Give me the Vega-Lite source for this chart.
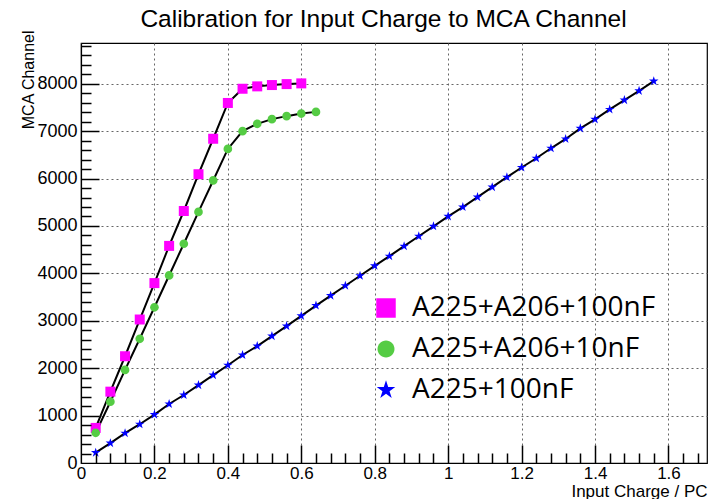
{
  "$schema": "https://vega.github.io/schema/vega-lite/v6.json",
  "width": 626,
  "height": 420,
  "autosize": {"type": "none"},
  "padding": {"left": 81, "top": 43, "right": 8, "bottom": 36},
  "background": "white",
  "config": {
    "view": {"stroke": "black", "strokeWidth": 1.2},
    "font": "Liberation Sans"
  },
  "data": {
    "values": [
      {"series": "A225+A206+100nF", "x": 0.04, "y": 740},
      {"series": "A225+A206+100nF", "x": 0.08, "y": 1505},
      {"series": "A225+A206+100nF", "x": 0.12, "y": 2252},
      {"series": "A225+A206+100nF", "x": 0.16, "y": 3027},
      {"series": "A225+A206+100nF", "x": 0.20, "y": 3795},
      {"series": "A225+A206+100nF", "x": 0.24, "y": 4580},
      {"series": "A225+A206+100nF", "x": 0.28, "y": 5316},
      {"series": "A225+A206+100nF", "x": 0.32, "y": 6092},
      {"series": "A225+A206+100nF", "x": 0.36, "y": 6840},
      {"series": "A225+A206+100nF", "x": 0.40, "y": 7595},
      {"series": "A225+A206+100nF", "x": 0.44, "y": 7895},
      {"series": "A225+A206+100nF", "x": 0.48, "y": 7945},
      {"series": "A225+A206+100nF", "x": 0.52, "y": 7973},
      {"series": "A225+A206+100nF", "x": 0.56, "y": 7993},
      {"series": "A225+A206+100nF", "x": 0.60, "y": 8008},
      {"series": "A225+A206+10nF", "x": 0.04, "y": 637},
      {"series": "A225+A206+10nF", "x": 0.08, "y": 1293},
      {"series": "A225+A206+10nF", "x": 0.12, "y": 1964},
      {"series": "A225+A206+10nF", "x": 0.16, "y": 2620},
      {"series": "A225+A206+10nF", "x": 0.20, "y": 3285},
      {"series": "A225+A206+10nF", "x": 0.24, "y": 3956},
      {"series": "A225+A206+10nF", "x": 0.28, "y": 4625},
      {"series": "A225+A206+10nF", "x": 0.32, "y": 5296},
      {"series": "A225+A206+10nF", "x": 0.36, "y": 5960},
      {"series": "A225+A206+10nF", "x": 0.40, "y": 6625},
      {"series": "A225+A206+10nF", "x": 0.44, "y": 7000},
      {"series": "A225+A206+10nF", "x": 0.48, "y": 7155},
      {"series": "A225+A206+10nF", "x": 0.52, "y": 7254},
      {"series": "A225+A206+10nF", "x": 0.56, "y": 7317},
      {"series": "A225+A206+10nF", "x": 0.60, "y": 7371},
      {"series": "A225+A206+10nF", "x": 0.64, "y": 7407},
      {"series": "A225+100nF", "x": 0.04, "y": 218},
      {"series": "A225+100nF", "x": 0.08, "y": 419},
      {"series": "A225+100nF", "x": 0.12, "y": 629},
      {"series": "A225+100nF", "x": 0.16, "y": 818},
      {"series": "A225+100nF", "x": 0.20, "y": 1021},
      {"series": "A225+100nF", "x": 0.24, "y": 1245},
      {"series": "A225+100nF", "x": 0.28, "y": 1434},
      {"series": "A225+100nF", "x": 0.32, "y": 1643},
      {"series": "A225+100nF", "x": 0.36, "y": 1853},
      {"series": "A225+100nF", "x": 0.40, "y": 2063},
      {"series": "A225+100nF", "x": 0.44, "y": 2279},
      {"series": "A225+100nF", "x": 0.48, "y": 2467},
      {"series": "A225+100nF", "x": 0.52, "y": 2677},
      {"series": "A225+100nF", "x": 0.56, "y": 2887},
      {"series": "A225+100nF", "x": 0.60, "y": 3103},
      {"series": "A225+100nF", "x": 0.64, "y": 3321},
      {"series": "A225+100nF", "x": 0.68, "y": 3530},
      {"series": "A225+100nF", "x": 0.72, "y": 3740},
      {"series": "A225+100nF", "x": 0.76, "y": 3950},
      {"series": "A225+100nF", "x": 0.80, "y": 4160},
      {"series": "A225+100nF", "x": 0.84, "y": 4363},
      {"series": "A225+100nF", "x": 0.88, "y": 4574},
      {"series": "A225+100nF", "x": 0.92, "y": 4783},
      {"series": "A225+100nF", "x": 0.96, "y": 4993},
      {"series": "A225+100nF", "x": 1.00, "y": 5203},
      {"series": "A225+100nF", "x": 1.04, "y": 5399},
      {"series": "A225+100nF", "x": 1.08, "y": 5609},
      {"series": "A225+100nF", "x": 1.12, "y": 5819},
      {"series": "A225+100nF", "x": 1.16, "y": 6029},
      {"series": "A225+100nF", "x": 1.20, "y": 6233},
      {"series": "A225+100nF", "x": 1.24, "y": 6429},
      {"series": "A225+100nF", "x": 1.28, "y": 6639},
      {"series": "A225+100nF", "x": 1.32, "y": 6836},
      {"series": "A225+100nF", "x": 1.36, "y": 7059},
      {"series": "A225+100nF", "x": 1.40, "y": 7248},
      {"series": "A225+100nF", "x": 1.44, "y": 7458},
      {"series": "A225+100nF", "x": 1.48, "y": 7655},
      {"series": "A225+100nF", "x": 1.52, "y": 7851},
      {"series": "A225+100nF", "x": 1.56, "y": 8055}
    ]
  },
  "resolve": {"axis": {"x": "independent", "y": "independent"}},
  "layer": [
    {
      "mark": {"type": "line", "color": "black", "strokeWidth": 2},
      "encoding": {
        "x": {
          "field": "x",
          "type": "quantitative",
          "scale": {"domain": [0, 1.705], "nice": false, "zero": false},
          "axis": {
            "orient": "bottom",
            "title": "Input Charge / PC",
            "titleFont": "Liberation Sans",
            "titleFontSize": 17,
            "titleFontWeight": "normal",
            "titleColor": "black",
            "titleAlign": "right",
            "titleAnchor": "end",
            "titleX": 626,
            "titleY": 33,
            "titleBaseline": "alphabetic",
            "values": [0, 0.2, 0.4, 0.6, 0.8, 1, 1.2, 1.4, 1.6],
            "format": ".1~f",
            "labelFont": "Liberation Sans",
            "labelFontSize": 17,
            "labelColor": "black",
            "labelOverlap": false,
            "labelFlush": false,
            "labelPadding": 2,
            "domainColor": "black",
            "domainWidth": 1.2,
            "ticks": false,
            "tickSize": 0,
            "grid": true,
            "gridColor": "#666666",
            "gridDash": [2, 3],
            "gridWidth": 1
          }
        },
        "y": {
          "field": "y",
          "type": "quantitative",
          "scale": {"domain": [0, 8860], "nice": false, "zero": false},
          "axis": {
            "orient": "left",
            "title": "MCA Channel",
            "titleFont": "Liberation Sans",
            "titleFontSize": 16,
            "titleFontWeight": "normal",
            "titleColor": "black",
            "titleAngle": -90,
            "titleAlign": "right",
            "titleBaseline": "middle",
            "titleX": -53,
            "titleY": -13,
            "values": [0, 1000, 2000, 3000, 4000, 5000, 6000, 7000, 8000],
            "format": "d",
            "labelFont": "Liberation Sans",
            "labelFontSize": 18,
            "labelColor": "black",
            "labelOverlap": false,
            "labelFlush": false,
            "labelPadding": 4,
            "domainColor": "black",
            "domainWidth": 1.2,
            "ticks": false,
            "tickSize": 0,
            "grid": true,
            "gridColor": "#666666",
            "gridDash": [2, 3],
            "gridWidth": 1
          }
        },
        "detail": {"field": "series"},
        "order": {"field": "x"}
      }
    },
    {
      "mark": {"type": "point", "filled": true, "opacity": 1, "strokeWidth": 0, "size": 100},
      "encoding": {
        "x": {
          "field": "x",
          "type": "quantitative",
          "scale": {"domain": [0, 1.705], "nice": false, "zero": false},
          "axis": {
            "orient": "top",
            "offset": -420,
            "title": null,
            "values": [0.2, 0.4, 0.6, 0.8, 1, 1.2, 1.4, 1.6],
            "labels": false,
            "domain": false,
            "grid": false,
            "ticks": true,
            "tickColor": "black",
            "tickWidth": 1.5,
            "tickSize": 18,
            "zindex": 2
          }
        },
        "y": {
          "field": "y",
          "type": "quantitative",
          "scale": {"domain": [0, 8860], "nice": false, "zero": false},
          "axis": {
            "orient": "right",
            "offset": -626,
            "title": null,
            "values": [1000, 2000, 3000, 4000, 5000, 6000, 7000, 8000],
            "labels": false,
            "domain": false,
            "grid": false,
            "ticks": true,
            "tickColor": "black",
            "tickWidth": 1.5,
            "tickSize": 18,
            "zindex": 2
          }
        },
        "color": {
          "field": "series",
          "type": "nominal",
          "scale": {"domain": ["A225+A206+100nF", "A225+A206+10nF", "A225+100nF"], "range": ["#ff00ff", "#55cc44", "#0000ff"]},
          "legend": {
            "title": null,
            "orient": "none",
            "legendX": 291,
            "legendY": 251,
            "padding": 0,
            "labelFont": "Open Sans",
            "labelFontSize": 28,
            "labelColor": "black",
            "labelOffset": 12,
            "labelLimit": 400,
            "rowPadding": 13,
            "symbolSize": 380
          }
        },
        "shape": {
          "field": "series",
          "type": "nominal",
          "scale": {"domain": ["A225+A206+100nF", "A225+A206+10nF", "A225+100nF"], "range": ["square", "M0.87,0A0.87,0.87,0,1,1,-0.87,0A0.87,0.87,0,1,1,0.87,0Z", "M0,-1L0.2245,-0.309L0.9511,-0.309L0.3633,0.118L0.5878,0.809L0,0.382L-0.5878,0.809L-0.3633,0.118L-0.9511,-0.309L-0.2245,-0.309Z"]}
        }
      }
    },
    {
      "mark": {"type": "point", "opacity": 0},
      "encoding": {
        "x": {
          "field": "x",
          "type": "quantitative",
          "scale": {"domain": [0, 1.705], "nice": false, "zero": false},
          "axis": {
            "orient": "top",
            "offset": -420,
            "title": null,
            "values": [0.04, 0.08, 0.12, 0.16, 0.24, 0.28, 0.32, 0.36, 0.44, 0.48, 0.52, 0.56, 0.64, 0.68, 0.72, 0.76, 0.84, 0.88, 0.92, 0.96, 1.04, 1.08, 1.12, 1.16, 1.24, 1.28, 1.32, 1.36, 1.44, 1.48, 1.52, 1.56, 1.64, 1.68],
            "labels": false,
            "domain": false,
            "grid": false,
            "ticks": true,
            "tickColor": "black",
            "tickWidth": 1.5,
            "tickSize": 10,
            "zindex": 2
          }
        },
        "y": {
          "field": "y",
          "type": "quantitative",
          "scale": {"domain": [0, 8860], "nice": false, "zero": false},
          "axis": {
            "orient": "right",
            "offset": -626,
            "title": null,
            "values": [200, 400, 600, 800, 1200, 1400, 1600, 1800, 2200, 2400, 2600, 2800, 3200, 3400, 3600, 3800, 4200, 4400, 4600, 4800, 5200, 5400, 5600, 5800, 6200, 6400, 6600, 6800, 7200, 7400, 7600, 7800, 8200, 8400, 8600, 8800],
            "labels": false,
            "domain": false,
            "grid": false,
            "ticks": true,
            "tickColor": "black",
            "tickWidth": 1.5,
            "tickSize": 10,
            "zindex": 2
          }
        }
      }
    },
    {
      "mark": {"type": "point", "opacity": 0},
      "encoding": {
        "x": {
          "field": "x",
          "type": "quantitative",
          "scale": {"domain": [0, 1.705], "nice": false, "zero": false},
          "axis": {
            "orient": "top",
            "title": "Calibration for Input Charge to MCA Channel",
            "titleFont": "Liberation Sans",
            "titleFontSize": 24.5,
            "titleFontWeight": "normal",
            "titleColor": "black",
            "titleAlign": "center",
            "titleX": 302,
            "titleY": -17,
            "titleBaseline": "alphabetic",
            "labels": false,
            "domain": false,
            "grid": false,
            "ticks": false
          }
        },
        "y": {
          "field": "y",
          "type": "quantitative",
          "scale": {"domain": [0, 8860], "nice": false, "zero": false},
          "axis": null
        }
      }
    }
  ]
}
